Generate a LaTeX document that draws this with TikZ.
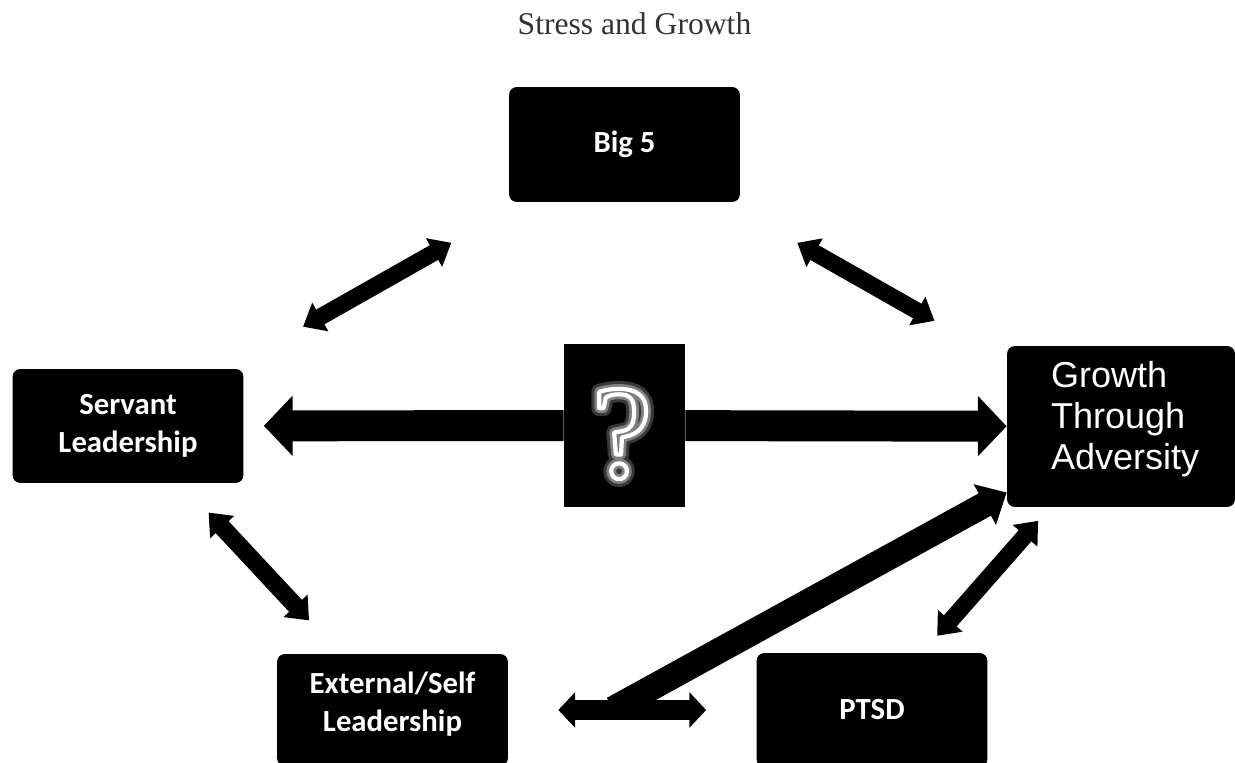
\documentclass[tikz,border=0pt]{standalone}
\usepackage{fontspec}
\setmainfont{Liberation Serif}
\newfontfamily\calibri{Carlito}
\newfontfamily\arial{Liberation Sans}
\usetikzlibrary{arrows.meta}

% stroke-only text for the glowing question mark
\newcommand\outlined[2]{\special{pdf:literal direct 1 Tr 1 j 1 J #1 w #2 G}?\special{pdf:literal direct 0 Tr}}

\tikzset{
  box/.style={fill=black, rounded corners=4.5pt, minimum width=4.62cm, minimum height=2.3cm,
    text=white, align=center, font=\calibri\bfseries\fontsize{17.5}{21.5}\selectfont},
  qm/.style={font=\fontsize{76}{76}\selectfont, inner sep=0pt},
  both/.style n args={3}{line width=#1, {Triangle[length=#2,width=#3]}-{Triangle[length=#2,width=#3]}},
  one/.style n args={3}{line width=#1, -{Triangle[length=#2,width=#3]}},
}

\begin{document}
\begin{tikzpicture}[x=0.02cm, y=-0.02cm]
\clip (0,0) rectangle (1235,763);
\node[font=\fontsize{18}{22}\selectfont, text=black!80] (title) at (634.5,24) {Stress and Growth};

% boxes
\node[box] (big5) at (624.5,144.5) {Big 5};
\node[box, minimum height=2.28cm] (servant) at (128,426) {Servant\\Leadership};
\node[box, minimum width=4.56cm, minimum height=3.22cm, align=left, text width=2.8cm,
  font=\arial\fontsize{20.5}{23.3}\selectfont] (growth) at (1121,426.5)
  {Growth\\Through\\Adversity\rule[-13pt]{0pt}{0pt}};
\node[box, minimum height=2.24cm] (ext) at (392.5,710) {External/Self\\Leadership\rule[-9pt]{0pt}{0pt}};
\node[box, minimum height=2.28cm] (ptsd) at (872,710) {PTSD};
\node[fill=black, minimum width=2.42cm, minimum height=3.26cm] (qbox) at (624.5,425.5) {};

% glowing question mark
\node[qm] (qhalo) at (622,434) {\outlined{9}{0.22}};
\node[qm] (qglow) at (622,434) {\outlined{5.5}{0.5}};
\node[qm] (qmark) at (622,434) {\outlined{2.4}{1}};

% links
\draw[both={9.6pt}{11.3pt}{18pt}, shorten <=1.64cm, shorten >=1.70cm] (big5) -- (servant);
\draw[both={9.6pt}{11.3pt}{18pt}, shorten <=1.64cm, shorten >=1.66cm] (big5) -- (growth);
\draw[one={17.6pt}{16.4pt}{33.4pt}, shorten >=0.4cm] (qbox) -- (servant);
\draw[one={17.6pt}{16.4pt}{33.4pt}] (qbox) -- (growth);
\draw[both={10pt}{11.3pt}{18pt}, shorten <=0.8cm, shorten >=0.91cm] (servant) -- (ext);
\draw[both={9.6pt}{11.3pt}{18pt}, shorten <=0.36cm, shorten >=0.45cm] (growth) -- (ptsd);
\draw[both={11.3pt}{9.6pt}{19.8pt}, shorten <=1cm, shorten >=1cm] (ext) -- (ptsd);
\coordinate (fork) at (613,709);
\draw[one={14.5pt}{14.2pt}{25.5pt}] (fork) -- (growth.210);
\end{tikzpicture}
\end{document}
